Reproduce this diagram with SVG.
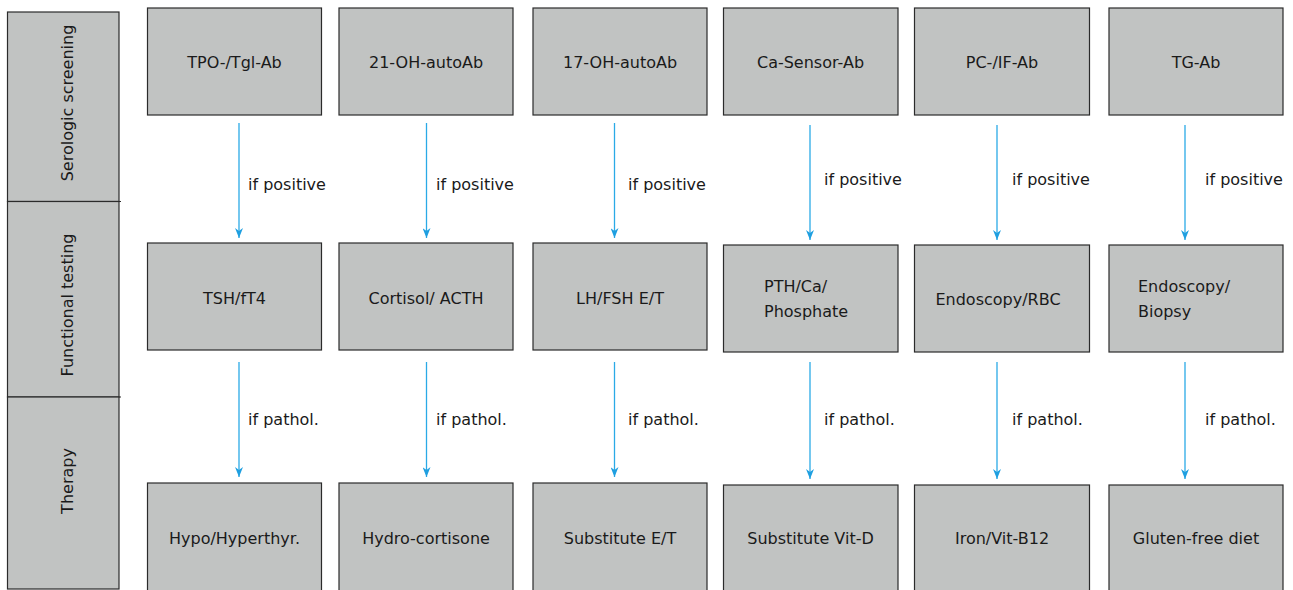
<svg xmlns="http://www.w3.org/2000/svg" width="1293" height="590" viewBox="0 0 1293 590">
<defs>
<style>
text{font-family:"DejaVu Sans","Liberation Sans",sans-serif;font-size:16px;fill:#1a1a1a}
.c{text-anchor:middle}
.box{fill:#c1c3c2;stroke:#2b2b2b;stroke-width:1.2}
.lane{fill:#c1c3c2;stroke:#2b2b2b;stroke-width:1.2}
.arr{stroke:#2aaae6;stroke-width:1.3;fill:none;marker-end:url(#ah)}
</style>
<marker id="ah" viewBox="0 0 8 10" markerUnits="userSpaceOnUse" markerWidth="8" markerHeight="10" refX="4" refY="10" orient="0">
<path d="M0,0 L4,3 L8,0 L4,10 z" fill="#1f9fe0"/>
</marker>
</defs>
<rect width="1293" height="590" fill="#ffffff"/>

<g id="lanes">
<g id="lane-serologic"><rect class="lane" x="7.5" y="12" width="111.5" height="189.5"/><text class="c" transform="translate(73,103) rotate(-90)">Serologic screening</text></g>
<g id="lane-functional"><rect class="lane" x="7.5" y="201.5" width="111.5" height="195.5"/><text class="c" transform="translate(73,305) rotate(-90)">Functional testing</text></g>
<g id="lane-therapy"><rect class="lane" x="7.5" y="397" width="111.5" height="192"/><text class="c" transform="translate(73,481) rotate(-90)">Therapy</text></g>
<line x1="119" y1="201.5" x2="121" y2="201.5" stroke="#2b2b2b" stroke-width="1.2"/>
<line x1="119" y1="397" x2="121" y2="397" stroke="#2b2b2b" stroke-width="1.2"/>
</g>

<g id="connectors">
<line class="arr" x1="239" y1="123" x2="239" y2="238"/>
<line class="arr" x1="426.5" y1="123" x2="426.5" y2="238"/>
<line class="arr" x1="614.5" y1="123" x2="614.5" y2="238"/>
<line class="arr" x1="810" y1="125" x2="810" y2="240"/>
<line class="arr" x1="997" y1="125" x2="997" y2="240"/>
<line class="arr" x1="1185" y1="125" x2="1185" y2="240"/>
<line class="arr" x1="239" y1="362" x2="239" y2="477"/>
<line class="arr" x1="426.5" y1="362" x2="426.5" y2="477"/>
<line class="arr" x1="614.5" y1="362" x2="614.5" y2="477"/>
<line class="arr" x1="810" y1="362" x2="810" y2="479"/>
<line class="arr" x1="997" y1="362" x2="997" y2="479"/>
<line class="arr" x1="1185" y1="362" x2="1185" y2="479"/>
<text x="248" y="190">if positive</text>
<text x="436" y="190">if positive</text>
<text x="628" y="190">if positive</text>
<text x="824" y="185">if positive</text>
<text x="1012" y="185">if positive</text>
<text x="1205" y="185">if positive</text>
<text x="248" y="425">if pathol.</text>
<text x="436" y="425">if pathol.</text>
<text x="628" y="425">if pathol.</text>
<text x="824" y="425">if pathol.</text>
<text x="1012" y="425">if pathol.</text>
<text x="1205" y="425">if pathol.</text>
</g>

<g id="n-tpo"><rect class="box" x="147.5" y="8" width="174" height="107"/><text class="c" x="234.5" y="68">TPO-/Tgl-Ab</text></g>
<g id="n-21oh"><rect class="box" x="339" y="8" width="174" height="107"/><text class="c" x="426" y="68">21-OH-autoAb</text></g>
<g id="n-17oh"><rect class="box" x="533" y="8" width="174" height="107"/><text class="c" x="620" y="68">17-OH-autoAb</text></g>
<g id="n-ca"><rect class="box" x="723.5" y="8" width="174.5" height="107"/><text class="c" x="810.5" y="68">Ca-Sensor-Ab</text></g>
<g id="n-pc"><rect class="box" x="914.5" y="8" width="175" height="107"/><text class="c" x="1002" y="68">PC-/IF-Ab</text></g>
<g id="n-tg"><rect class="box" x="1109" y="8" width="174" height="107"/><text class="c" x="1196" y="68">TG-Ab</text></g>

<g id="n-tsh"><rect class="box" x="147.5" y="243" width="174" height="107"/><text class="c" x="234.5" y="304">TSH/fT4</text></g>
<g id="n-cortisol"><rect class="box" x="339" y="243" width="174" height="107"/><text class="c" x="426" y="304">Cortisol/ ACTH</text></g>
<g id="n-lh"><rect class="box" x="533" y="243" width="174" height="107"/><text class="c" x="620" y="304">LH/FSH E/T</text></g>
<g id="n-pth"><rect class="box" x="723.5" y="245" width="174.5" height="107"/><text x="764" y="292">PTH/Ca/</text><text x="764" y="317">Phosphate</text></g>
<g id="n-endo-rbc"><rect class="box" x="914.5" y="245" width="175" height="107"/><text class="c" x="998" y="305">Endoscopy/RBC</text></g>
<g id="n-endo-biopsy"><rect class="box" x="1109" y="245" width="174" height="107"/><text x="1138" y="292">Endoscopy/</text><text x="1138" y="317">Biopsy</text></g>

<g id="n-hypo"><rect class="box" x="147.5" y="483" width="174" height="115"/><text class="c" x="234.5" y="544">Hypo/Hyperthyr.</text></g>
<g id="n-hydro"><rect class="box" x="339" y="483" width="174" height="115"/><text class="c" x="426" y="544">Hydro-cortisone</text></g>
<g id="n-subet"><rect class="box" x="533" y="483" width="174" height="115"/><text class="c" x="620" y="544">Substitute E/T</text></g>
<g id="n-subvitd"><rect class="box" x="723.5" y="485" width="174.5" height="115"/><text class="c" x="810.5" y="544">Substitute Vit-D</text></g>
<g id="n-iron"><rect class="box" x="914.5" y="485" width="175" height="115"/><text class="c" x="1002" y="544">Iron/Vit-B12</text></g>
<g id="n-gluten"><rect class="box" x="1109" y="485" width="174" height="115"/><text class="c" x="1196" y="544">Gluten-free diet</text></g>
</svg>
